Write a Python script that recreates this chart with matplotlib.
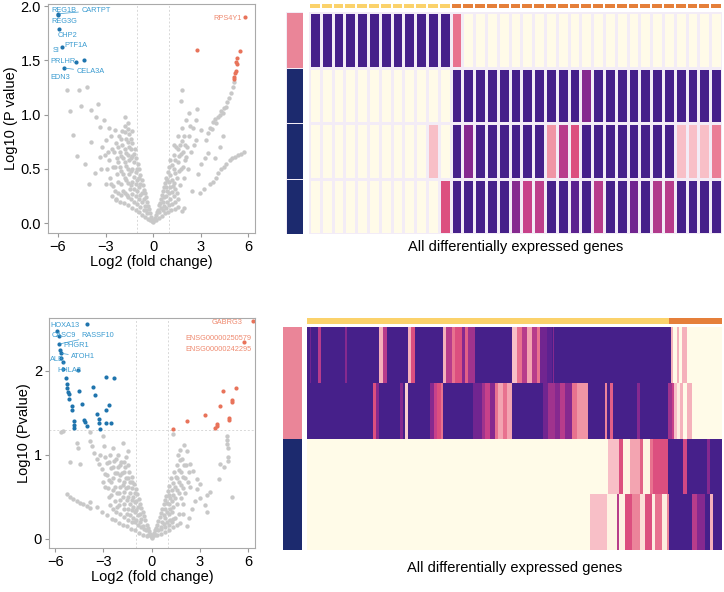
import numpy as np
import matplotlib.pyplot as plt
from matplotlib.colors import LinearSegmentedColormap, ListedColormap

plt.rcParams['font.family'] = ['Liberation Sans', 'DejaVu Sans']

# ── Colours ────────────────────────────────────────────────
GREY   = '#c8c8c8'
BLUE   = '#1f74ad'
BLUE_T = '#3a9bd0'
RED    = '#e8735a'
RED_T  = '#ef8a70'
YELLOW = '#fbd26b'
ORANGE = '#e57f3a'
PINK   = '#ea8598'
NAVY   = '#1c2a6e'

heat_cmap = LinearSegmentedColormap.from_list('heat', [
    (0.00, '#fffbe8'), (0.20, '#f8bfc7'), (0.35, '#f095a5'),
    (0.45, '#e8728f'), (0.55, '#dc4f7f'), (0.65, '#c8418a'),
    (0.72, '#b23a8c'), (0.80, '#86298f'), (0.90, '#5c2290'),
    (1.00, '#46208a')])

# ── Volcano 1 data ─────────────────────────────────────────
grey_top = [
    (0.02, 0.01), (-0.04, 0.02), (0.08, 0.03), (-0.1, 0.04), (0.13, 0.05), (-0.16, 0.06),
    (0.18, 0.08), (-0.21, 0.09), (0.24, 0.1), (-0.27, 0.13), (0.3, 0.12), (-0.33, 0.16),
    (0.36, 0.17), (-0.4, 0.2), (0.42, 0.19), (-0.45, 0.24), (0.48, 0.22), (-0.52, 0.28),
    (0.55, 0.26), (-0.58, 0.31), (0.62, 0.3), (-0.65, 0.35), (0.68, 0.33), (-0.72, 0.4),
    (0.75, 0.37), (-0.8, 0.44), (0.83, 0.42), (-0.88, 0.5), (0.92, 0.47), (-0.95, 0.55),
    (1.0, 0.52), (-1.05, 0.6),
    (-0.3, 0.04), (-0.5, 0.06), (-0.7, 0.08), (-0.9, 0.1), (-1.1, 0.12), (-1.35, 0.14),
    (-1.6, 0.17), (-1.85, 0.19), (-2.1, 0.2), (-2.35, 0.22), (0.35, 0.05), (0.55, 0.07),
    (0.75, 0.09), (0.95, 0.1), (1.15, 0.12), (1.4, 0.13), (1.6, 0.15), (1.85, 0.11), (1.95, 0.14),
    (-0.5, 0.16), (-0.7, 0.2), (-0.7, 0.28), (-0.9, 0.22), (-0.9, 0.33), (-0.9, 0.42),
    (-1.1, 0.25), (-1.1, 0.36), (-1.1, 0.47), (-1.15, 0.68), (-1.3, 0.27), (-1.3, 0.38),
    (-1.3, 0.5), (-1.3, 0.62), (-1.3, 0.74), (-1.35, 0.85), (-1.45, 0.32), (-1.5, 0.45),
    (-1.5, 0.58), (-1.5, 0.7), (-1.5, 0.82), (-1.55, 0.92), (-1.65, 0.26), (-1.7, 0.4),
    (-1.7, 0.53), (-1.7, 0.65), (-1.7, 0.78), (-1.75, 0.9), (-1.8, 0.98), (-1.9, 0.3),
    (-1.9, 0.45), (-1.9, 0.6), (-1.95, 0.72), (-1.95, 0.85), (-2.05, 0.36), (-2.1, 0.52),
    (-2.1, 0.66), (-2.15, 0.8), (-2.2, 0.28), (-2.3, 0.45), (-2.3, 0.6), (-2.35, 0.74),
    (-2.4, 0.86), (-2.5, 0.34), (-2.55, 0.52), (-2.6, 0.68), (-2.65, 0.8), (-2.7, 0.42),
    (-2.75, 0.58), (-2.8, 0.88), (-2.9, 0.5), (-2.95, 0.77), (-3.05, 0.63), (-3.2, 0.7),
    (-3.37, 0.89), (-3.37, 0.61), (-3.58, 0.98), (-3.68, 0.46), (-2.36, 0.21), (-2.6, 0.25),
    (-3.0, 0.36), (-3.1, 0.95), (-3.3, 0.5),
    (-0.2, 0.03), (-0.35, 0.09), (-0.45, 0.12), (-0.6, 0.12), (-0.6, 0.22), (-0.8, 0.15),
    (-0.8, 0.26), (-0.8, 0.36), (-1.0, 0.18), (-1.0, 0.3), (-1.0, 0.4), (-1.0, 0.5),
    (-1.2, 0.2), (-1.2, 0.32), (-1.2, 0.43), (-1.2, 0.56), (-1.2, 0.64), (-1.4, 0.22),
    (-1.4, 0.35), (-1.4, 0.48), (-1.4, 0.6), (-1.4, 0.68), (-1.4, 0.78), (-1.6, 0.24),
    (-1.6, 0.37), (-1.6, 0.5), (-1.6, 0.63), (-1.6, 0.75), (-1.6, 0.87), (-1.8, 0.28),
    (-1.8, 0.42), (-1.8, 0.56), (-1.8, 0.68), (-1.8, 0.84), (-2.0, 0.26), (-2.0, 0.48),
    (-2.0, 0.62), (-2.0, 0.78), (-2.2, 0.38), (-2.2, 0.56), (-2.2, 0.7), (-2.4, 0.3),
    (-2.4, 0.52), (-2.45, 0.66), (-2.65, 0.36), (-2.85, 0.66),
    (-5.41, 1.23), (-4.67, 1.23), (-4.17, 1.26), (-5.26, 1.03), (-4.53, 1.08), (-3.89, 1.04),
    (-5.05, 0.81), (-4.78, 0.62), (-4.04, 0.36), (-3.45, 1.1), (-3.9, 0.75), (-4.3, 0.55),
    (0.5, 0.14), (0.7, 0.16), (0.7, 0.24), (0.9, 0.2), (0.9, 0.3), (0.9, 0.4), (1.1, 0.22),
    (1.1, 0.33), (1.1, 0.44), (1.1, 0.58), (1.3, 0.25), (1.3, 0.37), (1.3, 0.5), (1.3, 0.63),
    (1.35, 0.72), (1.5, 0.28), (1.5, 0.42), (1.55, 0.56), (1.55, 0.68), (1.6, 0.8), (1.7, 0.35),
    (1.75, 0.5), (1.75, 0.64), (1.8, 0.76), (1.85, 0.88), (1.75, 1.13), (1.85, 1.23), (1.95, 0.42),
    (2.0, 0.58), (2.0, 0.72), (2.05, 0.95), (2.1, 0.61), (2.2, 0.5), (2.25, 0.8), (2.3, 1.02),
    (2.4, 0.66), (2.45, 0.3), (2.5, 0.88), (2.6, 0.72), (2.7, 0.95), (2.74, 0.77), (2.8, 1.05),
    (2.95, 0.28), (3.05, 0.86), (3.2, 0.32), (3.37, 0.77), (3.5, 0.83), (3.6, 0.88), (3.7, 0.87),
    (3.8, 0.93), (3.9, 0.96), (4.0, 0.92), (4.1, 0.98), (4.2, 1.0), (4.3, 1.03), (4.4, 1.02),
    (4.5, 1.06), (4.63, 1.07), (4.7, 1.12), (4.8, 1.15), (4.9, 1.2), (5.05, 1.26), (5.1, 1.3),
    (3.6, 0.36), (3.79, 0.38), (3.95, 0.42), (4.1, 0.46), (4.3, 0.5), (4.45, 0.52), (4.63, 0.55),
    (4.84, 0.58), (5.0, 0.6), (5.2, 0.61), (5.37, 0.63), (5.58, 0.64), (5.75, 0.66), (1.26, 0.34),
    (3.3, 0.6), (3.45, 0.65), (3.0, 0.55), (2.85, 0.45), (4.4, 0.8), (4.2, 0.7), (3.9, 0.6),
    (0.2, 0.03), (0.4, 0.1), (0.6, 0.12), (0.6, 0.2), (0.8, 0.14), (0.8, 0.25), (0.8, 0.33),
    (1.0, 0.17), (1.0, 0.28), (1.0, 0.38), (1.2, 0.18), (1.2, 0.29), (1.2, 0.4), (1.2, 0.54),
    (1.4, 0.2), (1.4, 0.32), (1.4, 0.46), (1.4, 0.58), (1.45, 0.7), (1.6, 0.22), (1.65, 0.48),
    (1.65, 0.62), (1.7, 0.72), (1.9, 0.52), (1.9, 0.66), (1.95, 0.8), (2.15, 0.7), (2.35, 0.9),
]
blue_top = [(-6.0, 1.93), (-5.98, 1.92), (-5.94, 1.79), (-5.75, 1.62),
            (-4.88, 1.49), (-4.38, 1.50), (-5.62, 1.43)]
red_top = [(2.78, 1.60), (5.52, 1.59), (5.31, 1.52), (5.26, 1.49), (5.29, 1.47),
           (5.22, 1.40), (5.18, 1.38), (5.14, 1.35), (5.10, 1.33), (5.83, 1.90)]
# label, text position, point it points to (None = no connector)
labels_top = [
    ('REG1B',  (-6.42, 1.96), None),
    ('CARTPT', (-4.53, 1.96), (-6.0, 1.93)),
    ('REG3G',  (-6.42, 1.86), None),
    ('CHP2',   (-6.0, 1.73), None),
    ('PTF1A',  (-5.58, 1.64), None),
    ('SI',     (-6.36, 1.59), None),
    ('PRLHR',  (-6.46, 1.49), None),
    ('CELA3A', (-4.84, 1.40), (-5.62, 1.43)),
    ('EDN3',   (-6.46, 1.34), None),
]

# ── Volcano 2 data ─────────────────────────────────────────
grey_bot = [
    (0.0, 0.01), (0.05, 0.02), (-0.06, 0.03), (0.1, 0.04), (-0.12, 0.06), (0.16, 0.07),
    (-0.18, 0.09), (0.22, 0.1), (-0.25, 0.13), (0.28, 0.13), (-0.32, 0.17), (0.35, 0.17),
    (-0.4, 0.22), (0.42, 0.21), (-0.48, 0.27), (0.5, 0.26), (-0.56, 0.32), (0.58, 0.31),
    (-0.64, 0.37), (0.66, 0.36), (-0.72, 0.42), (0.74, 0.41), (-0.8, 0.47), (0.82, 0.46),
    (-0.9, 0.53), (0.9, 0.51), (-1.0, 0.59), (1.0, 0.57), (-1.1, 0.65), (1.1, 0.63),
    (-0.3, 0.03), (-0.55, 0.05), (-0.8, 0.07), (-1.05, 0.1), (-1.3, 0.12), (-1.55, 0.15),
    (-1.8, 0.17), (-2.05, 0.19), (-2.3, 0.22), (0.3, 0.04), (0.55, 0.06), (0.8, 0.08),
    (1.05, 0.1), (1.35, 0.14), (1.6, 0.17), (1.76, 0.19), (2.17, 0.15), (1.35, 0.24),
    (-0.55, 0.15), (-0.75, 0.2), (-0.75, 0.3), (-0.95, 0.22), (-0.95, 0.34), (-0.95, 0.45),
    (-1.15, 0.25), (-1.15, 0.38), (-1.15, 0.5), (-1.2, 0.74), (-1.35, 0.28), (-1.35, 0.42),
    (-1.35, 0.55), (-1.35, 0.68), (-1.4, 0.8), (-1.55, 0.3), (-1.55, 0.46), (-1.6, 0.6),
    (-1.6, 0.72), (-1.65, 0.85), (-1.75, 0.35), (-1.76, 1.14), (-1.8, 0.5), (-1.8, 0.64),
    (-1.85, 0.78), (-1.9, 0.92), (-2.0, 0.4), (-2.0, 0.55), (-2.05, 0.7), (-2.1, 0.85),
    (-2.1, 1.0), (-2.25, 0.45), (-2.25, 0.62), (-2.3, 0.78), (-2.35, 0.93), (-2.4, 1.08),
    (-2.48, 0.24), (-2.5, 0.52), (-2.5, 0.68), (-2.55, 0.84), (-2.6, 1.0), (-2.7, 0.6),
    (-2.75, 0.76), (-2.8, 0.28), (-2.8, 0.9), (-2.9, 0.77), (-2.95, 1.1), (-3.0, 1.22),
    (-3.05, 0.68), (-3.11, 0.83), (-3.11, 0.32), (-3.2, 1.0), (-3.25, 0.89), (-3.42, 0.38),
    (-3.4, 0.95), (-3.56, 1.02), (-3.7, 1.1), (-3.83, 1.16), (-3.83, 1.27), (-3.83, 0.44),
    (-2.6, 0.4), (-2.2, 0.32), (-1.6, 0.98), (-1.5, 1.05),
    (-0.2, 0.04), (-0.38, 0.1), (-0.5, 0.12), (-0.65, 0.14), (-0.65, 0.24), (-0.85, 0.16),
    (-0.85, 0.28), (-0.85, 0.38), (-1.05, 0.2), (-1.05, 0.32), (-1.05, 0.44), (-1.05, 0.54),
    (-1.25, 0.2), (-1.25, 0.34), (-1.25, 0.46), (-1.25, 0.6), (-1.25, 0.68), (-1.45, 0.22),
    (-1.45, 0.36), (-1.45, 0.5), (-1.45, 0.62), (-1.45, 0.72), (-1.45, 0.88), (-1.7, 0.26),
    (-1.7, 0.42), (-1.7, 0.56), (-1.7, 0.68), (-1.7, 0.8), (-1.7, 0.92), (-1.95, 0.3),
    (-1.95, 0.46), (-1.95, 0.62), (-1.95, 0.76), (-1.95, 0.88), (-2.15, 0.38), (-2.15, 0.54),
    (-2.15, 0.78), (-2.2, 0.95), (-2.4, 0.36), (-2.4, 0.58), (-2.4, 0.72), (-2.4, 0.86),
    (-2.65, 0.5), (-2.65, 0.7), (-2.65, 0.92), (-2.9, 0.62), (-2.9, 0.98),
    (-5.63, 1.27), (-5.5, 1.28), (-4.62, 1.14), (-4.55, 1.08), (-5.07, 0.92), (-4.45, 0.89),
    (-5.28, 0.53), (-5.07, 0.5), (-4.86, 0.47), (-4.66, 0.45), (-4.45, 0.43), (-4.24, 0.41),
    (-4.04, 0.39), (-3.83, 0.37),
    (0.55, 0.14), (0.75, 0.18), (0.75, 0.28), (0.95, 0.2), (0.95, 0.32), (0.95, 0.43),
    (1.15, 0.22), (1.15, 0.35), (1.15, 0.48), (1.2, 0.72), (1.3, 1.25), (1.35, 0.38),
    (1.35, 0.52), (1.35, 0.66), (1.4, 0.8), (1.55, 0.42), (1.55, 0.58), (1.6, 0.72),
    (1.6, 0.88), (1.65, 1.0), (1.76, 1.06), (1.8, 0.48), (1.8, 0.64), (1.85, 0.8), (1.9, 0.95),
    (2.0, 1.12), (2.05, 0.55), (2.1, 0.72), (2.15, 0.88), (2.2, 1.05), (2.38, 0.89), (2.4, 0.62),
    (2.59, 0.81), (2.8, 0.71), (2.8, 0.59), (3.0, 0.65), (3.0, 0.48), (3.42, 0.52), (3.42, 0.32),
    (3.3, 0.4), (3.62, 0.56), (4.2, 0.71), (4.24, 0.89), (4.66, 1.22), (4.66, 1.18), (4.68, 1.13),
    (4.72, 1.08), (4.72, 0.98), (4.75, 0.93), (4.97, 0.5), (4.5, 0.85), (2.5, 0.35), (2.7, 0.45),
    (1.95, 0.3), (2.3, 0.25),
    (0.2, 0.04), (0.38, 0.1), (0.6, 0.12), (0.65, 0.2), (0.85, 0.14), (0.85, 0.25), (0.85, 0.35),
    (1.05, 0.17), (1.05, 0.3), (1.05, 0.42), (1.05, 0.52), (1.25, 0.2), (1.25, 0.32),
    (1.25, 0.45), (1.25, 0.58), (1.45, 0.25), (1.45, 0.48), (1.45, 0.62), (1.5, 0.74),
    (1.7, 0.3), (1.7, 0.55), (1.7, 0.68), (1.7, 0.82), (1.75, 0.94), (1.95, 0.42), (1.95, 0.6),
    (1.95, 0.74), (2.0, 0.88), (2.25, 0.68), (2.3, 0.8),
]
blue_bot = [
    (-5.86, 2.48), (-4.0, 2.56), (-5.76, 2.32), (-5.73, 2.41), (-5.69, 2.25), (-5.65, 2.21),
    (-5.63, 2.15), (-5.53, 2.11), (-5.53, 2.02), (-5.32, 1.91), (-5.28, 1.84), (-5.24, 1.80),
    (-5.18, 1.75), (-5.11, 1.72), (-5.13, 1.67), (-4.97, 1.58), (-4.97, 1.53), (-4.82, 1.40),
    (-4.82, 1.35), (-4.82, 1.32), (-4.55, 2.01), (-4.49, 1.76), (-4.33, 1.60), (-4.18, 1.42),
    (-4.14, 1.39), (-4.04, 1.34), (-3.62, 1.81), (-3.52, 1.71), (-3.37, 1.49), (-3.29, 1.43),
    (-3.25, 1.38), (-3.21, 1.31), (-2.84, 1.93), (-2.34, 1.91), (-2.84, 1.53), (-2.63, 1.59),
    (-2.84, 1.38), (-2.53, 1.38),
]
red_bot = [(6.3, 2.59), (5.73, 2.34), (5.24, 1.80), (4.41, 1.76), (4.97, 1.65), (5.01, 1.63),
           (4.24, 1.58), (3.31, 1.48), (4.78, 1.44), (4.8, 1.42), (2.22, 1.40), (4.08, 1.37),
           (4.04, 1.34), (3.95, 1.32), (1.30, 1.31)]
labels_bot = [
    ('HOXA13',  (-6.27, 2.54), None),
    ('CASC9',   (-6.21, 2.42), None),
    ('RASSF10', (-4.35, 2.42), (-5.76, 2.32)),
    ('PHGR1',   (-5.49, 2.30), None),
    ('ATOH1',   (-5.01, 2.17), (-5.65, 2.21)),
    ('ALB',     (-6.31, 2.13), None),
    ('HHLA2',   (-5.86, 2.01), (-5.53, 2.11)),
]
labels_bot_red = [('GABRG3', (5.63, 2.58)),
                  ('ENSG00000250579', (6.21, 2.39)),
                  ('ENSG00000242295', (6.21, 2.26))]

# ── Heatmap 1 data (4 samples x 35 genes) ──────────────────
top_gene_groups = [12, 23]   # yellow, orange
top_sample_groups = [1, 3]   # pink, navy
heat_top = [
    [1]*12 + [0.45] + [0]*22,
    [0]*12 + [1]*11 + [0.8] + [1]*11,
    [0]*10 + [0.2, 0, 1, 0.8, 1, 1, 1, 1, 1, 1, 0.35, 0.7, 0.55,
              1, 1, 1, 1, 1, 1, 1, 1, 0.2, 0.2, 0.2, 0.42],
    [0]*11 + [0.55, 1, 1, 1, 1, 1, 0.8, 0.65, 0.68, 1, 1, 0.9, 1, 0.7,
              1, 1, 0.85, 1, 0.72, 0.7, 1, 1, 1, 1],
]

# ── Heatmap 2 data (4 samples x 415 genes, run-length: start gene, value)
N_BOT = 415
bot_gene_groups = [362, 53]
bot_sample_groups = [2, 2]
runs_bot = [
    [(0, 1.0), (3, 0.85), (4, 1.0), (11, 0.7), (14, 1.0), (38, 0.8), (40, 1.0), (72, 0.25),
     (76, 0.7), (80, 1.0), (101, 0.25), (104, 0.55), (108, 1.0), (136, 0.25), (139, 0.7),
     (145, 0.45), (148, 0.55), (155, 0.8), (158, 0.5), (161, 0.75), (168, 1.0), (205, 0.2),
     (210, 0.45), (215, 0.7), (220, 0.3), (225, 0.7), (230, 0.45), (233, 0.85), (240, 0.9),
     (245, 1.0), (246, 0.8), (247, 1.0), (364, 0.25), (366, 0.0), (370, 0.25), (372, 0.0),
     (375, 0.25), (380, 0.0)],
    [(0, 1.0), (66, 0.55), (69, 0.8), (72, 1.0), (93, 0.8), (96, 1.0), (98, 0.15), (101, 1.0),
     (123, 0.8), (127, 0.65), (130, 0.55), (134, 0.45), (136, 1.0), (166, 0.85), (175, 0.75),
     (178, 0.65), (183, 0.8), (188, 0.45), (191, 0.3), (196, 0.45), (200, 0.3), (205, 1.0),
     (236, 0.85), (241, 0.75), (248, 0.8), (253, 0.7), (258, 0.8), (265, 0.45), (270, 0.35),
     (281, 1.0), (298, 0.4), (300, 1.0), (303, 0.5), (306, 1.0), (330, 0.8), (333, 1.0),
     (361, 0.75), (365, 0.65), (367, 0.2), (370, 0.05), (373, 0.25), (376, 0.0), (380, 0.25),
     (385, 0.0)],
    [(0, 0.0), (301, 0.2), (312, 0.55), (316, 0.03), (323, 0.3), (333, 0.5), (336, 0.03),
     (343, 0.45), (346, 0.55), (361, 1.0), (376, 0.6), (380, 1.0), (400, 0.8), (403, 1.0)],
    [(0, 0.0), (283, 0.2), (300, 0.03), (310, 0.7), (312, 0.03), (318, 0.55), (325, 0.4),
     (333, 0.1), (338, 0.55), (345, 0.05), (348, 0.45), (355, 0.05), (360, 0.4), (362, 1.0),
     (385, 0.7), (390, 0.8), (398, 1.0), (403, 0.25), (406, 1.0)],
]


def expand(runs, n):
    row = np.zeros(n)
    for k, (start, val) in enumerate(runs):
        end = runs[k + 1][0] if k + 1 < len(runs) else n
        row[start:end] = val
    return row


heat_bot = np.array([expand(r, N_BOT) for r in runs_bot])


# ── Figure ─────────────────────────────────────────────────
fig = plt.figure(figsize=(7.24, 5.92), dpi=100)
LABEL_FS = 5.3


def volcano(rect, grey, blue, red, xlim, ylim, yticks, ylabel, hline):
    ax = fig.add_axes(rect)
    g = np.array(grey); b = np.array(blue); r = np.array(red)
    ax.axvline(-1, color='#d8d8d8', lw=0.7, ls=(0, (2, 2)), zorder=0)
    ax.axvline(1, color='#d8d8d8', lw=0.7, ls=(0, (2, 2)), zorder=0)
    if hline:
        ax.axhline(1.3, color='#d8d8d8', lw=0.7, ls=(0, (2, 2)), zorder=0)
    ax.scatter(g[:, 0], g[:, 1], s=10, color=GREY, lw=0, zorder=1)
    ax.scatter(b[:, 0], b[:, 1], s=9, color=BLUE, lw=0, zorder=2)
    ax.scatter(r[:, 0], r[:, 1], s=9, color=RED, lw=0, zorder=2)
    ax.set_xlim(*xlim)
    ax.set_ylim(*ylim)
    ax.set_xticks([-6, -3, 0, 3, 6])
    ax.set_xticklabels(['\u22126', '\u22123', '0', '3', '6'])
    ax.set_yticks(yticks)
    ax.tick_params(labelsize=10.5, length=3, color='#999999', pad=2)
    for sp in ax.spines.values():
        sp.set_edgecolor('#aaaaaa')
        sp.set_linewidth(0.8)
    ax.set_xlabel('Log2 (fold change)', fontsize=10.5, labelpad=1)
    ax.set_ylabel(ylabel, fontsize=10.5, labelpad=2)
    return ax


ax1 = volcano([0.0663, 0.6064, 0.286, 0.3868], grey_top, blue_top, red_top,
              (-6.63, 6.44), (-0.09, 2.02), [0.0, 0.5, 1.0, 1.5, 2.0],
              'Log10 (P value)', False)
ax1.set_yticklabels(['0.0', '0.5', '1.0', '1.5', '2.0'])
for name, pos, pt in labels_top:
    if pt is None:
        ax1.text(pos[0], pos[1], name, fontsize=LABEL_FS, color=BLUE_T, va='center', ha='left')
    else:
        ax1.annotate(name, xy=pt, xytext=pos, fontsize=LABEL_FS, color=BLUE_T,
                     va='center', ha='left',
                     arrowprops=dict(arrowstyle='-', color=BLUE_T, lw=0.5,
                                     shrinkA=0, shrinkB=1))
ax1.text(5.62, 1.89, 'RPS4Y1', fontsize=LABEL_FS, color=RED_T, va='center', ha='right')

ax2 = volcano([0.0677, 0.0743, 0.2845, 0.3885], grey_bot, blue_bot, red_bot,
              (-6.38, 6.42), (-0.11, 2.63), [0, 1, 2],
              'Log10 (Pvalue)', True)
for name, pos, pt in labels_bot:
    if pt is None:
        ax2.text(pos[0], pos[1], name, fontsize=LABEL_FS, color=BLUE_T, va='center', ha='left')
    else:
        ax2.annotate(name, xy=pt, xytext=pos, fontsize=LABEL_FS, color=BLUE_T,
                     va='center', ha='left',
                     arrowprops=dict(arrowstyle='-', color=BLUE_T, lw=0.5,
                                     shrinkA=0, shrinkB=1))
for name, pos in labels_bot_red:
    ax2.text(pos[0], pos[1], name, fontsize=LABEL_FS, color=RED_T, va='center', ha='right')


def heatmap(main_rect, top_rect, left_rect, data, gene_groups, sample_groups,
            edges, title_y):
    data = np.asarray(data, dtype=float)
    nrow, ncol = data.shape
    ec = dict(edgecolors='#f3ecf6', linewidth=0.8) if edges else {}

    ax = fig.add_axes(main_rect)
    ax.pcolormesh(data, cmap=heat_cmap, vmin=0, vmax=1, **ec)
    ax.set_xlim(0, ncol); ax.set_ylim(nrow, 0)
    ax.axis('off')

    gene_codes = np.repeat(np.arange(len(gene_groups)), gene_groups)[None, :]
    axt = fig.add_axes(top_rect)
    axt.pcolormesh(gene_codes, cmap=ListedColormap([YELLOW, ORANGE]), vmin=0, vmax=1,
                   **(dict(edgecolors='white', linewidth=1.2) if edges else {}))
    axt.set_xlim(0, ncol)
    axt.axis('off')

    samp_codes = np.repeat(np.arange(len(sample_groups)), sample_groups)[:, None]
    axl = fig.add_axes(left_rect)
    axl.pcolormesh(samp_codes, cmap=ListedColormap([PINK, NAVY]), vmin=0, vmax=1,
                   **(dict(edgecolors='#f3ecf6', linewidth=0.6) if edges else {}))
    axl.set_ylim(nrow, 0)
    axl.axis('off')

    cx = main_rect[0] + main_rect[2] / 2
    fig.text(cx, title_y, 'All differentially expressed genes', fontsize=10.5,
             ha='center', va='center')


heatmap([0.4268, 0.6047, 0.5704, 0.375], [0.4268, 0.9848, 0.5704, 0.0101],
        [0.395, 0.6047, 0.0235, 0.375], heat_top, top_gene_groups,
        top_sample_groups, True, 0.583)
heatmap([0.424, 0.0709, 0.5732, 0.3767], [0.424, 0.4527, 0.5732, 0.0101],
        [0.3909, 0.0709, 0.0262, 0.3767], heat_bot, bot_gene_groups,
        bot_sample_groups, False, 0.0405)

fig.savefig('out.png', dpi=100)
